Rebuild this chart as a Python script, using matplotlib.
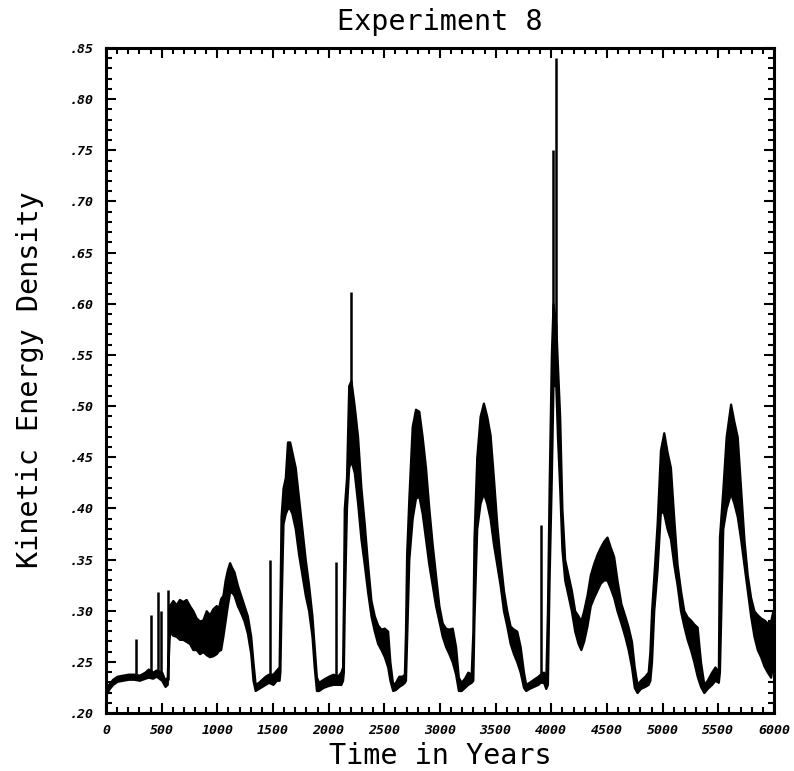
import matplotlib
matplotlib.use("Agg")
import matplotlib.pyplot as plt
from matplotlib.ticker import MultipleLocator, FuncFormatter

# Envelope of the rapidly oscillating kinetic energy signal (upper / lower edge)
years = [
    0, 30, 60, 100, 150, 200, 250, 300, 350, 380, 420, 450, 500, 530, 550,
    570, 600, 630, 660, 690, 720, 750, 780, 810, 840, 870, 900, 930, 960, 990,
    1010, 1030, 1050, 1070, 1090, 1110, 1130, 1150, 1180, 1210, 1240, 1270,
    1300, 1320, 1340, 1370, 1400, 1430, 1460, 1500, 1530, 1555, 1562, 1572,
    1590, 1610, 1630, 1650, 1670, 1700, 1730, 1760, 1790, 1820, 1850, 1870,
    1890, 1910, 1950, 2000, 2040, 2080, 2110, 2125, 2132, 2140, 2160, 2180,
    2200, 2230, 2260, 2290, 2320, 2350, 2380, 2410, 2440, 2470, 2500, 2530,
    2550, 2575, 2600, 2630, 2660, 2680, 2690, 2700, 2720, 2750, 2780, 2810,
    2840, 2870, 2900, 2930, 2960, 2990, 3020, 3050, 3080, 3110, 3140, 3165,
    3190, 3220, 3250, 3280, 3295, 3305, 3330, 3360, 3390, 3420, 3450, 3480,
    3510, 3540, 3570, 3600, 3630, 3660, 3690, 3720, 3750, 3770, 3800, 3840,
    3880, 3900, 3930, 3950, 3965, 3980, 4000, 4015, 4040, 4055, 4075, 4095,
    4120, 4150, 4180, 4210, 4240, 4265, 4290, 4320, 4350, 4380, 4410, 4440,
    4470, 4500, 4530, 4560, 4590, 4625, 4660, 4690, 4720, 4745, 4770, 4800,
    4840, 4870, 4885, 4900, 4920, 4950, 4980, 5010, 5040, 5070, 5100, 5130,
    5160, 5190, 5220, 5250, 5280, 5310, 5340, 5370, 5400, 5440, 5470, 5500,
    5510, 5540, 5570, 5610, 5640, 5670, 5700, 5730, 5760, 5790, 5820, 5850,
    5880, 5910, 5940, 5970, 5990, 6000,
]
ke_upper = [
    .224, .229, .233, .236, .237, .238, .238, .237, .240, .243, .240, .242, .240, .232, .235,
    .305, .310, .306, .311, .309, .311, .305, .300, .293, .290, .291, .300, .296, .302, .305,
    .303, .312, .315, .330, .340, .347, .342, .338, .325, .315, .305, .295,
    .275, .250, .228, .230, .233, .236, .238, .238, .242, .245, .305, .392,
    .420, .430, .465, .465, .455, .440, .410, .380, .350, .325, .295, .265,
    .235, .230, .233, .236, .238, .236, .240, .245, .305, .400, .430, .520,
    .525, .500, .470, .420, .385, .345, .310, .295, .286, .282, .283, .280,
    .250, .228, .230, .236, .236, .238, .280, .355, .410, .480, .497, .495,
    .470, .440, .400, .365, .335, .305, .288, .283, .282, .283, .265, .235,
    .230, .234, .240, .238, .280, .370, .450, .490, .503, .490, .472, .430,
    .385, .350, .320, .300, .285, .282, .280, .265, .240, .228, .230, .233,
    .236, .238, .240, .232, .300, .420, .550, .600, .580, .540, .490, .400,
    .350, .335, .320, .300, .295, .290, .300, .315, .335, .346, .355, .362,
    .368, .372, .362, .353, .330, .307, .295, .284, .270, .245, .228, .232,
    .236, .240, .260, .300, .333, .385, .457, .474, .455, .440, .390, .345,
    .320, .300, .294, .291, .287, .284, .250, .228, .232, .240, .245, .240,
    .372, .418, .470, .502, .485, .470, .420, .370, .335, .313, .300, .296,
    .293, .291, .288, .290, .300, .302,
]
ke_lower = [
    .218, .224, .228, .231, .232, .233, .233, .232, .234, .235, .234, .236, .232, .226, .228,
    .280, .276, .275, .272, .272, .270, .268, .262, .262, .258, .260, .257, .255, .256, .258,
    .261, .262, .275, .290, .305, .318, .318, .315, .305, .298, .290, .278,
    .258, .232, .222, .224, .226, .228, .230, .228, .232, .232, .240, .300,
    .385, .395, .400, .400, .395, .380, .355, .335, .315, .300, .275, .245,
    .222, .222, .225, .227, .228, .228, .228, .232, .240, .300, .400, .440,
    .447, .435, .405, .370, .345, .318, .295, .280, .268, .262, .255, .245,
    .232, .222, .223, .226, .228, .230, .232, .270, .350, .390, .410, .412,
    .395, .370, .345, .325, .305, .290, .275, .265, .258, .250, .238, .222,
    .222, .225, .228, .230, .232, .290, .380, .405, .415, .405, .390, .365,
    .345, .325, .300, .285, .268, .258, .250, .240, .225, .222, .224, .226,
    .228, .230, .230, .224, .228, .330, .430, .520, .520, .470, .420, .360,
    .330, .315, .300, .280, .268, .262, .270, .285, .305, .313, .320, .327,
    .330, .330, .322, .313, .300, .288, .275, .262, .245, .225, .220, .224,
    .226, .228, .232, .250, .300, .340, .398, .395, .380, .370, .345, .325,
    .300, .285, .272, .262, .250, .236, .226, .220, .224, .228, .232, .230,
    .240, .380, .400, .415, .405, .392, .370, .345, .320, .295, .275, .262,
    .255, .246, .240, .235, .250, .260,
]

# Isolated short bursts that rise well above the envelope
spike_years = [270, 400, 465, 490, 560, 1475, 2065, 2205, 3910, 4015, 4040]
spike_base = [.236, .240, .236, .236, .232, .232, .232, .500, .232, .580, .560]
spike_peak = [.272, .296, .318, .300, .320, .350, .348, .612, .384, .750, .840]

x_major = 500
x_minor = 100
y_major = .05
y_minor = .01

fig = plt.figure(figsize=(7.94, 7.71), dpi=100)
ax = fig.add_axes([0.1335, 0.0752, 0.8413, 0.8625])

ax.fill_between(years, ke_lower, ke_upper, facecolor="black",
                edgecolor="black", linewidth=1.6)
ax.vlines(spike_years, spike_base, spike_peak, colors="black", linewidth=1.8)

ax.set_xlim(0, 6000)
ax.set_ylim(.20, .85)
ax.xaxis.set_major_locator(MultipleLocator(x_major))
ax.xaxis.set_minor_locator(MultipleLocator(x_minor))
ax.yaxis.set_major_locator(MultipleLocator(y_major))
ax.yaxis.set_minor_locator(MultipleLocator(y_minor))
ax.xaxis.set_major_formatter(FuncFormatter(lambda v, p: f"{int(round(v))}"))
ax.yaxis.set_major_formatter(FuncFormatter(lambda v, p: f"{v:.2f}".lstrip("0")))

for s in ax.spines.values():
    s.set_linewidth(2.2)
ax.tick_params(which="both", direction="in", top=True, right=True, width=1.5)
ax.tick_params(which="major", length=7.5)
ax.tick_params(which="minor", length=4.5)
ax.tick_params(axis="y", pad=9)
ax.tick_params(axis="x", pad=8)
for lbl in ax.get_xticklabels() + ax.get_yticklabels():
    lbl.set_family("DejaVu Sans Mono")
    lbl.set_fontweight("bold")
    lbl.set_fontstyle("italic")
    lbl.set_fontsize(9.5)

# Wide, evenly spaced lettering for the title and axis names
label_font = dict(family="DejaVu Sans Mono", fontsize=20.5)
fig.text(0.554, 0.972, "Experiment 8", ha="center", va="center", **label_font)
fig.text(0.554, 0.019, "Time in Years", ha="center", va="center", **label_font)
fig.text(0.038, 0.507, "Kinetic Energy Density", ha="center", va="center",
         rotation=90, **label_font)

fig.savefig("out.png", dpi=100)
